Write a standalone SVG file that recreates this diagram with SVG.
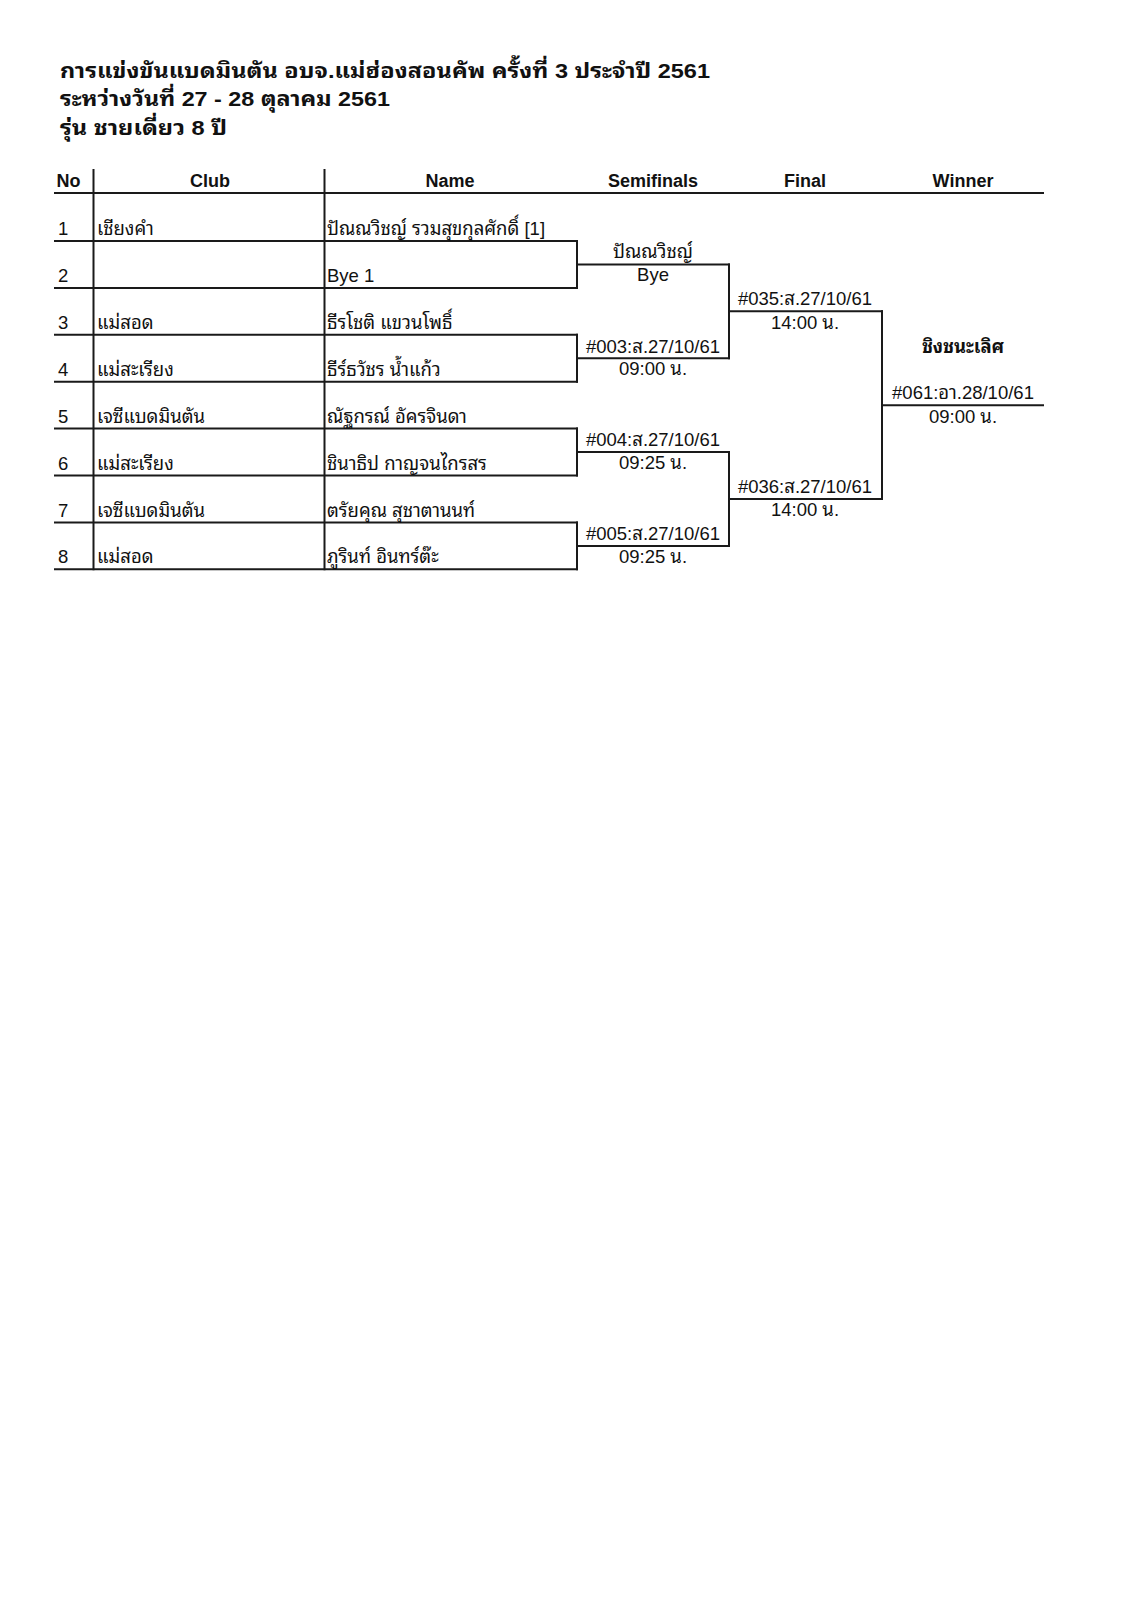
<svg xmlns="http://www.w3.org/2000/svg" width="1131" height="1600" viewBox="0 0 1131 1600">
<style>
text{font-family:"Liberation Sans","Noto Sans Thai Looped","Noto Serif Thai","Loma","Garuda","Norasi","Waree","Tlwg Typo","Noto Sans Thai","Noto Sans","DejaVu Sans",sans-serif;fill:#111;font-size:18.5px}
.t{font-weight:bold;font-size:20px}
.h{font-weight:bold;text-anchor:middle;font-size:18px}
.c{text-anchor:middle}
.b{font-weight:bold}
line{stroke:#1a1a1a;stroke-width:2;stroke-linecap:square}
</style>
<rect width="1131" height="1600" fill="#fff"/>
<g id="title">
<text class="t" x="60" y="78" textLength="650" lengthAdjust="spacingAndGlyphs">การแข่งขันแบดมินตัน อบจ.แม่ฮ่องสอนคัพ ครั้งที่ 3 ประจำปี 2561</text>
<text class="t" x="60" y="106" textLength="330" lengthAdjust="spacingAndGlyphs">ระหว่างวันที่ 27 - 28 ตุลาคม 2561</text>
<text class="t" x="60" y="135" textLength="167" lengthAdjust="spacingAndGlyphs">รุ่น ชายเดี่ยว 8 ปี</text>
</g>
<g id="header">
<text class="h" x="68.5" y="187">No</text>
<text class="h" x="210" y="187">Club</text>
<text class="h" x="450" y="187">Name</text>
<text class="h" x="653" y="187">Semifinals</text>
<text class="h" x="805" y="187">Final</text>
<text class="h" x="963" y="187">Winner</text>
</g>
<g id="connectors">
<line x1="55" y1="193" x2="1043" y2="193"/>
<line x1="93.5" y1="170" x2="93.5" y2="569.3"/>
<line x1="324.5" y1="170" x2="324.5" y2="569.3"/>
<line x1="55" y1="241" x2="577" y2="241"/>
<line x1="55" y1="287.9" x2="577" y2="287.9"/>
<line x1="55" y1="334.8" x2="577" y2="334.8"/>
<line x1="55" y1="381.7" x2="577" y2="381.7"/>
<line x1="55" y1="428.6" x2="577" y2="428.6"/>
<line x1="55" y1="475.5" x2="577" y2="475.5"/>
<line x1="55" y1="522.4" x2="577" y2="522.4"/>
<line x1="55" y1="569.3" x2="577" y2="569.3"/>
<line x1="577" y1="241" x2="577" y2="287.9"/>
<line x1="577" y1="334.8" x2="577" y2="381.7"/>
<line x1="577" y1="428.6" x2="577" y2="475.5"/>
<line x1="577" y1="522.4" x2="577" y2="569.3"/>
<line x1="577" y1="264.4" x2="729" y2="264.4"/>
<line x1="577" y1="358.2" x2="729" y2="358.2"/>
<line x1="577" y1="452" x2="729" y2="452"/>
<line x1="577" y1="545.9" x2="729" y2="545.9"/>
<line x1="729" y1="264.4" x2="729" y2="358.2"/>
<line x1="729" y1="452" x2="729" y2="545.9"/>
<line x1="729" y1="311.3" x2="882" y2="311.3"/>
<line x1="729" y1="499" x2="882" y2="499"/>
<line x1="882" y1="311.3" x2="882" y2="499"/>
<line x1="882" y1="405.2" x2="1043" y2="405.2"/>
</g>
<g id="row1"><text x="58" y="235">1</text><text x="97" y="235">เชียงคำ</text><text x="327" y="235">ปัณณวิชญ์ รวมสุขกุลศักดิ์ [1]</text></g>
<g id="row2"><text x="58" y="282">2</text><text x="327" y="282">Bye 1</text></g>
<g id="row3"><text x="58" y="329">3</text><text x="97" y="329">แม่สอด</text><text x="327" y="329">ธีรโชติ แขวนโพธิ์</text></g>
<g id="row4"><text x="58" y="376">4</text><text x="97" y="376">แม่สะเรียง</text><text x="327" y="376">ธีร์ธวัชร น้ำแก้ว</text></g>
<g id="row5"><text x="58" y="423">5</text><text x="97" y="423">เจซีแบดมินตัน</text><text x="327" y="423">ณัฐกรณ์ อัครจินดา</text></g>
<g id="row6"><text x="58" y="469.5">6</text><text x="97" y="469.5">แม่สะเรียง</text><text x="327" y="469.5">ชินาธิป กาญจนไกรสร</text></g>
<g id="row7"><text x="58" y="516.5">7</text><text x="97" y="516.5">เจซีแบดมินตัน</text><text x="327" y="516.5">ตรัยคุณ สุชาตานนท์</text></g>
<g id="row8"><text x="58" y="563.3">8</text><text x="97" y="563.3">แม่สอด</text><text x="327" y="563.3">ภูรินท์ อินทร์ต๊ะ</text></g>
<g id="sf1"><text class="c" x="653" y="258">ปัณณวิชญ์</text><text class="c" x="653" y="281">Bye</text></g>
<g id="sf2"><text class="c" x="653" y="352.5">#003:ส.27/10/61</text><text class="c" x="653" y="375">09:00 น.</text></g>
<g id="sf3"><text class="c" x="653" y="446">#004:ส.27/10/61</text><text class="c" x="653" y="469">09:25 น.</text></g>
<g id="sf4"><text class="c" x="653" y="540">#005:ส.27/10/61</text><text class="c" x="653" y="563">09:25 น.</text></g>
<g id="f1"><text class="c" x="805" y="305">#035:ส.27/10/61</text><text class="c" x="805" y="328.5">14:00 น.</text></g>
<g id="f2"><text class="c" x="805" y="493">#036:ส.27/10/61</text><text class="c" x="805" y="516">14:00 น.</text></g>
<g id="w"><text class="c b" x="963" y="352.5">ชิงชนะเลิศ</text><text class="c" x="963" y="399.3">#061:อา.28/10/61</text><text class="c" x="963" y="422.7">09:00 น.</text></g>
</svg>
